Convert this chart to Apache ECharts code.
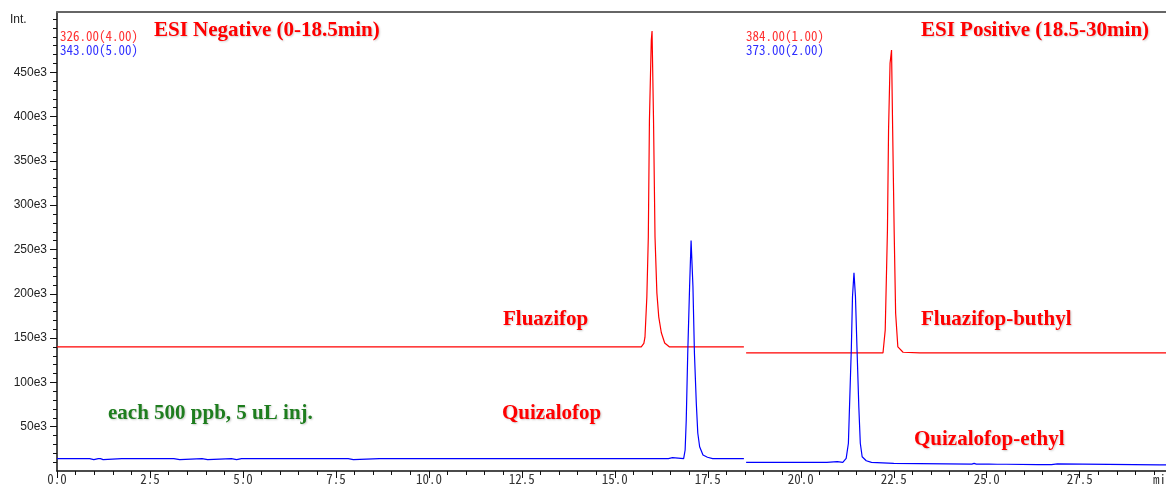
<!DOCTYPE html>
<html>
<head>
<meta charset="utf-8">
<title>Chromatogram</title>
<script src="https://cdn.jsdelivr.net/npm/echarts@6/dist/echarts.min.js"></script>
<style>
    html, body { margin: 0; padding: 0; background: #fff; overflow: hidden; }
    #chart_show { width: 1166px; height: 485px; }
</style>
</head>
<body>
<div id="chart_show"></div>
<script>
// retention time (min), intensity
var negRed = [
    [0, 140000], [15.71, 140000], [15.78, 144000], [15.81, 151000], [15.86, 196000], [15.90, 264000],
    [15.93, 396000], [15.98, 486000], [16.00, 496500], [16.04, 396000], [16.08, 264000],
    [16.13, 201000], [16.18, 174000], [16.25, 156000], [16.34, 144500], [16.47, 140000],
    [16.95, 140000], [16.97, 141000], [17.00, 140000], [17.10, 140000], [17.12, 141000],
    [17.15, 140000], [18.18, 140000], [18.20, 141200], [18.23, 140000], [18.47, 140000]
];
var negBlue = [
    [0, 14000], [0.88, 14000], [0.91, 12800], [0.99, 12800], [1.02, 14000], [1.11, 14000],
    [1.14, 12900], [1.17, 14000], [1.21, 14000], [1.24, 12900], [1.27, 14000], [1.74, 14000],
    [1.77, 12900], [1.80, 14000], [2.29, 14000], [2.32, 12800], [2.36, 14000], [2.87, 14000],
    [2.90, 12800], [2.94, 14000], [3.00, 14000], [3.03, 12900], [3.06, 14000], [3.14, 14000],
    [3.17, 12900], [3.30, 12900], [3.33, 14000], [3.90, 14000], [3.94, 12800], [4.05, 12800],
    [4.09, 14000], [4.69, 14000], [4.73, 12800], [4.83, 12800], [4.87, 14000], [4.96, 14000],
    [4.99, 12900], [5.02, 14000], [6.05, 14000], [6.09, 12800], [6.13, 14000], [7.83, 14000],
    [7.87, 12800], [7.97, 12800], [8.01, 14000], [8.67, 14000], [8.70, 12900], [8.73, 14000],
    [16.44, 14000], [16.47, 15000], [16.55, 15000], [16.58, 14000], [16.85, 14000],
    [16.89, 23700], [16.92, 57600], [16.96, 133000], [17.01, 208000], [17.05, 260000],
    [17.10, 208000], [17.14, 133000], [17.19, 76700], [17.23, 42900], [17.28, 27400],
    [17.37, 18000], [17.49, 15500], [17.63, 14000], [18.47, 14000]
];
var posRed = [
    [18.53, 133200], [22.21, 133200], [22.27, 159000], [22.33, 272000], [22.36, 385000],
    [22.40, 460000], [22.44, 475000], [22.47, 385000], [22.51, 272000], [22.55, 178000],
    [22.61, 140000], [22.75, 134000], [23.20, 133200], [29.82, 133200]
];
var posBlue = [
    [18.53, 9800], [20.50, 9800], [20.53, 9000], [20.56, 9800], [20.70, 9800], [20.74, 10600],
    [20.98, 10600], [21.01, 9800], [21.13, 9800], [21.22, 14300], [21.28, 31300], [21.31, 72600],
    [21.36, 140000], [21.39, 196700], [21.43, 223800], [21.47, 196700], [21.51, 140000],
    [21.56, 72600], [21.60, 31300], [21.65, 16100], [21.76, 11600], [21.90, 9800],
    [22.50, 8600], [24.60, 7800], [24.66, 8600], [24.72, 7800], [24.98, 7700], [25.02, 8500],
    [25.06, 7700], [25.28, 7600], [25.31, 8400], [25.36, 7600], [25.45, 7600], [25.48, 8400],
    [25.52, 7600], [26.38, 7300], [26.41, 8100], [26.44, 7300], [26.74, 7200], [26.78, 8000],
    [26.90, 8000], [26.94, 7100], [29.64, 6800], [29.68, 7900], [29.74, 6800], [29.82, 6800]
];
var xTickLabels = [0, 2.5, 5, 7.5, 10, 12.5, 15, 17.5, 20, 22.5, 25, 27.5];
var yTickLabels = [50000, 100000, 150000, 200000, 250000, 300000, 350000, 400000, 450000];

var X_MAX = 29.82, Y_MAX = 518000;
var monoFont = '"Noto Sans Mono CJK JP", "DejaVu Sans Mono", monospace';
var serifFont = '"Liberation Serif", "Times New Roman", serif';

var xMinor = [], yMinor = [];
for (var i = 0; i <= 59; i++) { xMinor.push(i * 0.5); }
for (var j = 1; j <= 51; j++) { yMinor.push(j * 10000); }

// x/y is the text anchor: left edge, vertical middle
function label(text, x, y, color) {
    return {
        type: 'text', x: x, y: y,
        style: {
            text: text, fill: color, font: 'bold 21px ' + serifFont,
            verticalAlign: 'middle',
            textShadowColor: 'rgba(0,0,0,0.2)', textShadowBlur: 2,
            textShadowOffsetX: 1, textShadowOffsetY: 1
        }
    };
}

function small(text, x, y, color, font) {
    return {
        type: 'text', x: x, y: y,
        style: { text: text, fill: color, font: font, verticalAlign: 'middle' }
    };
}

function trace(data, color) {
    return {
        type: 'line', data: data, symbol: 'none', silent: true,
        lineStyle: { color: color, width: 1.2 },
        animation: false
    };
}

var myChart = echarts.init(document.getElementById('chart_show'));

myChart.setOption({
    animation: false,
    grid: { left: 57, right: 0, top: 12, bottom: 14, outerBoundsMode: 'none' },
    xAxis: [
        {
            type: 'value', min: 0, max: X_MAX, position: 'bottom',
            axisLine: { lineStyle: { color: '#111', width: 1.5 } },
            axisTick: { customValues: xTickLabels, length: 7, lineStyle: { color: '#111' } },
            axisLabel: {
                customValues: xTickLabels, margin: 2, color: '#333',
                fontFamily: monoFont, fontSize: 13,
                formatter: function (v) { return v.toFixed(1); }
            },
            splitLine: { show: false }
        },
        {
            type: 'value', min: 0, max: X_MAX, position: 'bottom',
            axisLine: { show: false },
            axisTick: { customValues: xMinor, length: 4, lineStyle: { color: '#111' } },
            axisLabel: { show: false },
            splitLine: { show: false }
        },
        {
            type: 'value', min: 0, max: X_MAX, position: 'top',
            axisLine: { lineStyle: { color: '#666', width: 2 } },
            axisTick: { show: false },
            axisLabel: { show: false },
            splitLine: { show: false }
        }
    ],
    yAxis: [
        {
            type: 'value', min: 0, max: Y_MAX,
            axisLine: { show: true, lineStyle: { color: '#111', width: 1.5 } },
            axisTick: { show: true, customValues: yTickLabels, length: 7, lineStyle: { color: '#111' } },
            axisLabel: {
                customValues: yTickLabels, margin: 10, color: '#222',
                fontFamily: '"Liberation Sans", Arial, sans-serif', fontSize: 12,
                formatter: function (v) { return (v / 1000) + 'e3'; }
            },
            splitLine: { show: false }
        },
        {
            type: 'value', min: 0, max: Y_MAX, position: 'left',
            axisLine: { show: false },
            axisTick: { show: true, customValues: yMinor, length: 4, lineStyle: { color: '#111' } },
            axisLabel: { show: false },
            splitLine: { show: false }
        }
    ],
    series: [
        trace(negRed, '#ff0000'),
        trace(negBlue, '#0000ff'),
        trace(posRed, '#ff0000'),
        trace(posBlue, '#0000ff')
    ],
    graphic: [
        small('Int.', 10, 20, '#222', '12px "Liberation Sans", Arial, sans-serif'),
        small('326.00(4.00)', 60, 36, '#ff3030', '13px ' + monoFont),
        small('343.00(5.00)', 60, 50, '#3030ff', '13px ' + monoFont),
        small('384.00(1.00)', 746, 36, '#ff3030', '13px ' + monoFont),
        small('373.00(2.00)', 746, 50, '#3030ff', '13px ' + monoFont),
        small('min', 1153, 479, '#333', '13px ' + monoFont),
        label('ESI Negative (0-18.5min)', 154, 31, '#ff0000'),
        label('ESI Positive (18.5-30min)', 921, 31, '#ff0000'),
        label('Fluazifop', 503, 320, '#ff0000'),
        label('Fluazifop-buthyl', 921, 320, '#ff0000'),
        label('Quizalofop', 502, 414, '#ff0000'),
        label('Quizalofop-ethyl', 914, 440, '#ff0000'),
        label('each 500 ppb, 5 uL inj.', 108, 414, '#1e7d1e')
    ]
});
</script>
</body>
</html>
